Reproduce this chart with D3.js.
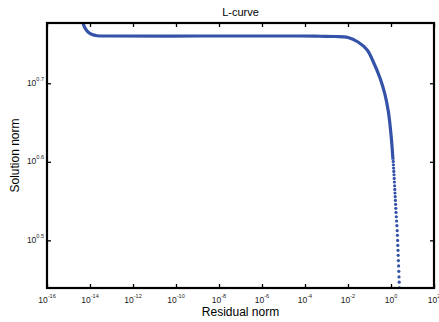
<!DOCTYPE html>
<html>
<head>
<meta charset="utf-8">
<script src="https://cdn.jsdelivr.net/npm/d3@7"></script>
<style>
  body { margin: 0; background: #fff; }
  text { font-family: "Liberation Sans", Arial, sans-serif; fill: #000; }
</style>
</head>
<body>
<div id="chart"></div>
<script>
// dense part of the L-curve (drawn as a thick line)
const curveResidual = [4.25e-15, 4.72e-15, 5.85e-15, 8.07e-15, 1.24e-14, 2.12e-14, 8.51e-14, 1.31e-9, 5.85e-5,
  4.99e-4, 2.48e-3, 1.0e-2, 2.92e-2, 7.66e-2, 0.146, 0.308, 0.526, 0.748, 0.898, 1.055, 1.239];
const curveSolution = [6.03, 5.98, 5.892, 5.824, 5.781, 5.761, 5.756, 5.756, 5.756,
  5.752, 5.748, 5.731, 5.656, 5.529, 5.346, 5.089, 4.847, 4.617, 4.440, 4.246, 4.005];

// sparse tail, individual dots
const dotResidual = [1.266, 1.293, 1.321, 1.350, 1.379, 1.409, 1.439, 1.471, 1.502, 1.535,
  1.568, 1.602, 1.637, 1.672, 1.708, 1.764, 1.822, 1.881, 1.943, 1.985,
  2.028, 2.072, 2.117, 2.162, 2.209, 2.257, 2.306, 2.356, 2.407, 2.459];
const dotSolution = [3.985, 3.947, 3.908, 3.870, 3.833, 3.792, 3.752, 3.711, 3.671, 3.633,
  3.594, 3.555, 3.514, 3.473, 3.432, 3.389, 3.347, 3.301, 3.253, 3.209,
  3.162, 3.116, 3.071, 3.026, 2.980, 2.934, 2.888, 2.841, 2.797, 2.751];

const xTickExp = [-16, -14, -12, -10, -8, -6, -4, -2, 0, 2];
const yTickExp = ['0.5', '0.6', '0.7'];

const width = 439, height = 322;
const margin = {top: 23, right: 5, bottom: 34, left: 47};
const w = width - margin.left - margin.right;
const h = height - margin.top - margin.bottom;
const blue = '#3452a8';

const svg = d3.select('#chart').append('svg')
  .attr('width', width)
  .attr('height', height);

const ctr = svg.append('g')
  .attr('transform', `translate(${margin.left},${margin.top})`);

const x = d3.scaleLog().domain([1e-16, 1e2]).range([0, w]);
const y = d3.scaleLog().domain([2.75, 5.98]).range([h, 0]);

svg.append('defs').append('clipPath').attr('id', 'clip')
  .append('rect').attr('width', w).attr('height', h);

const plot = ctr.append('g').attr('clip-path', 'url(#clip)');

const curve = curveResidual.map((r, i) => [r, curveSolution[i]]);
plot.append('path')
  .datum(curve)
  .attr('fill', 'none')
  .attr('stroke', blue)
  .attr('stroke-width', 3.2)
  .attr('stroke-linejoin', 'round')
  .attr('d', d3.line().curve(d3.curveCatmullRom.alpha(0.5)).x(d => x(d[0])).y(d => y(d[1])));

plot.selectAll('circle')
  .data(dotResidual.map((r, i) => [r, dotSolution[i]]))
  .join('circle')
  .attr('cx', d => x(d[0]))
  .attr('cy', d => y(d[1]))
  .attr('r', 1.6)
  .attr('fill', blue);

// ticks on all four sides, pointing inward
const xTicks = xTickExp.map(e => Math.pow(10, e));
const yTicks = yTickExp.map(e => Math.pow(10, +e));

const tickStyle = g => {
  g.select('.domain').remove();
  g.selectAll('.tick line').attr('stroke', '#000').attr('stroke-width', 1.3);
  g.selectAll('.tick text').remove();
};

ctr.append('g').attr('transform', `translate(0,${h})`)
  .call(d3.axisBottom(x).tickValues(xTicks).tickSize(-4)).call(tickStyle);
ctr.append('g')
  .call(d3.axisTop(x).tickValues(xTicks).tickSize(-4)).call(tickStyle);
ctr.append('g')
  .call(d3.axisLeft(y).tickValues(yTicks).tickSize(-4)).call(tickStyle);
ctr.append('g').attr('transform', `translate(${w},0)`)
  .call(d3.axisRight(y).tickValues(yTicks).tickSize(-4)).call(tickStyle);

ctr.append('rect')
  .attr('width', w).attr('height', h)
  .attr('fill', 'none')
  .attr('stroke', '#000')
  .attr('stroke-width', 2.2);

// tick labels: 10 with a superscript exponent
const xLab = ctr.append('g').selectAll('text')
  .data(xTickExp)
  .join('text')
  .attr('x', d => x(Math.pow(10, d)))
  .attr('y', h + 15)
  .attr('text-anchor', 'middle')
  .style('font-size', '8.5px')
  .style('fill', '#222');
xLab.append('tspan').text('10');
xLab.append('tspan').attr('dy', -5).style('font-size', '5.5px').text(d => d);

const yLab = ctr.append('g').selectAll('text')
  .data(yTickExp)
  .join('text')
  .attr('x', -3)
  .attr('y', d => y(Math.pow(10, +d)) + 2.5)
  .attr('text-anchor', 'end')
  .style('font-size', '8.5px')
  .style('fill', '#222');
yLab.append('tspan').text('10');
yLab.append('tspan').attr('dy', -5).style('font-size', '5.5px').text(d => d);

svg.append('text')
  .attr('x', margin.left + w / 2)
  .attr('y', 16)
  .attr('text-anchor', 'middle')
  .style('font-size', '11px')
  .text('L-curve');

svg.append('text')
  .attr('x', margin.left + w / 2)
  .attr('y', 316)
  .attr('text-anchor', 'middle')
  .style('font-size', '12px')
  .text('Residual norm');

svg.append('text')
  .attr('transform', `translate(19,${margin.top + h / 2}) rotate(-90)`)
  .attr('text-anchor', 'middle')
  .style('font-size', '12px')
  .text('Solution norm');
</script>
</body>
</html>
